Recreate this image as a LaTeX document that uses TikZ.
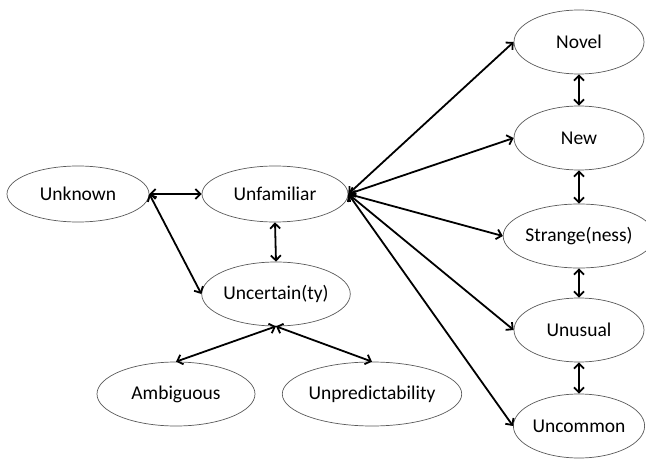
\documentclass[tikz,border=0pt]{standalone}
\usepackage{fontspec}
\setmainfont{Carlito}
\usepackage{tikz}
\usetikzlibrary{shapes.geometric, arrows.meta}
\tikzset{
  term/.style={ellipse, draw=black!65, line width=0.7pt, inner sep=0pt,
    minimum width=#1, minimum height=62pt},
  term/.default=140pt,
  link/.style={line width=1.8pt, {Straight Barb[length=5pt,width=10pt]}-{Straight Barb[length=5pt,width=10pt]}}
}

\begin{document}
\begin{tikzpicture}[x=1pt, y=-1pt, font=\fontsize{19.5}{21}\selectfont]
          \useasboundingbox (0,0) rectangle (646,460);
          % left part
          \node[term=142pt, minimum height=56pt] (unknown) at (78,194) {Unknown};
          \node[term=146pt, minimum height=56pt] (unfamiliar) at (275,194) {Unfamiliar};
          \node[term=137pt, minimum height=64pt] (uncertain) at (276,294) {Uncertain(ty)};
          \node[term=158pt, minimum height=64pt] (ambiguous) at (176,394) {Ambiguous};
          \node[term=150pt, minimum height=64pt] (unpredict) at (372,394) {Unpredictability};
          % right column
          \foreach \nm/\y/\lbl in {novel/42/Novel, new/138/New, strange/236/Strange(ness),
                                   unusual/330/Unusual, uncommon/426/Uncommon}{
            \node[term=130pt, minimum height=64pt] (\nm) at (579,\y) {\lbl};
            \draw[link] (unfamiliar.east) -- (\nm.west);
          }
          % links
          \draw[link] (unknown.east) -- (unfamiliar.west);
          \draw[link] (unknown.east) -- (uncertain.west);
          \draw[link] (unfamiliar.south) -- (uncertain.north);
          \draw[link] (uncertain.south) -- (ambiguous.north);
          \draw[link] (uncertain.south) -- (unpredict.north);
          \foreach \a/\b in {novel/new, new/strange, strange/unusual, unusual/uncommon}{
            \draw[link] (\a.south) -- (\b.north);
          }
        \end{tikzpicture}
\end{document}
